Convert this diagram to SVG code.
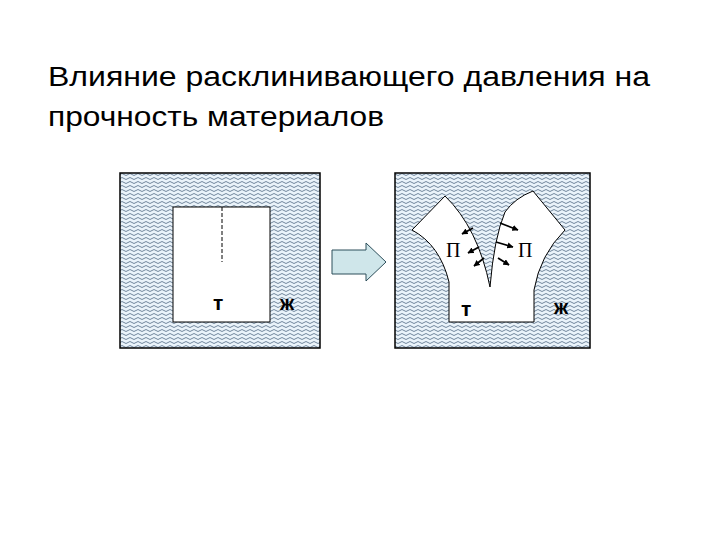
<svg xmlns="http://www.w3.org/2000/svg" width="720" height="540" viewBox="0 0 720 540">
<defs>
<pattern id="w" width="8" height="4" patternUnits="userSpaceOnUse">
<rect width="8" height="4" fill="#eaf3fa"/>
<path d="M0 2.5 Q2 0.5 4 2.5 T8 2.5" fill="none" stroke="#1e3c5a" stroke-width="0.6"/>
</pattern>
<marker id="ah" viewBox="0 0 10 10" refX="9" refY="5" markerWidth="3.5" markerHeight="3.5" orient="auto"><path d="M0 0L10 5L0 10z" fill="#000"/></marker>
</defs>
<style>
.t{font-family:"Liberation Sans",Arial,sans-serif;fill:#000}
.s{font-family:"Liberation Serif","Times New Roman",serif;fill:#000}
.b{stroke:#000;stroke-width:1.5}
.a{stroke:#000;stroke-width:1.8;marker-end:url(#ah)}
</style>
<rect width="720" height="540" fill="#fff"/>
<text class="t" x="48" y="86" font-size="27" textLength="602" lengthAdjust="spacingAndGlyphs">Влияние расклинивающего давления на</text>
<text class="t" x="48" y="126" font-size="27" textLength="336" lengthAdjust="spacingAndGlyphs">прочность материалов</text>
<g id="left">
<rect x="120" y="173" width="200" height="175" fill="url(#w)" class="b"/>
<rect x="173" y="207" width="97" height="115" fill="#fff" stroke="#000" stroke-width="1"/>
<line x1="222" y1="207" x2="222" y2="262" stroke="#000" stroke-dasharray="4,2"/>
<text class="t" x="213" y="310" font-size="21" font-weight="bold">т</text>
<text class="t" x="280" y="310" font-size="20" font-weight="bold">ж</text>
</g>
<g id="arrow">
<path d="M332 250H366V243L386 262L366 281V274H332Z" fill="#cfe6ea" stroke="#2c4e5a" stroke-width="1"/>
</g>
<g id="right">
<rect x="395" y="173" width="195" height="175" fill="url(#w)" class="b"/>
<path d="M445 196Q478 228 490 287Q494 238 505 212Q515 198 533 191L565 230Q540 255 534 290V322H449V282Q440 245 412 230Z" fill="#fff" stroke="#000" stroke-width="1"/>
<text class="s" x="446" y="257" font-size="20">П</text>
<text class="s" x="518" y="257" font-size="20">П</text>
<text class="t" x="461" y="316" font-size="21" font-weight="bold">т</text>
<text class="t" x="554" y="314" font-size="20" font-weight="bold">ж</text>
</g>
<g id="connectors">
<line class="a" x1="473" y1="228" x2="462" y2="234"/>
<line class="a" x1="479" y1="247" x2="468" y2="253"/>
<line class="a" x1="484" y1="258" x2="474" y2="266"/>
<line class="a" x1="500" y1="223" x2="518" y2="230"/>
<line class="a" x1="496" y1="242" x2="513" y2="247"/>
<line class="a" x1="498" y1="258" x2="509" y2="265"/>
</g>
</svg>
